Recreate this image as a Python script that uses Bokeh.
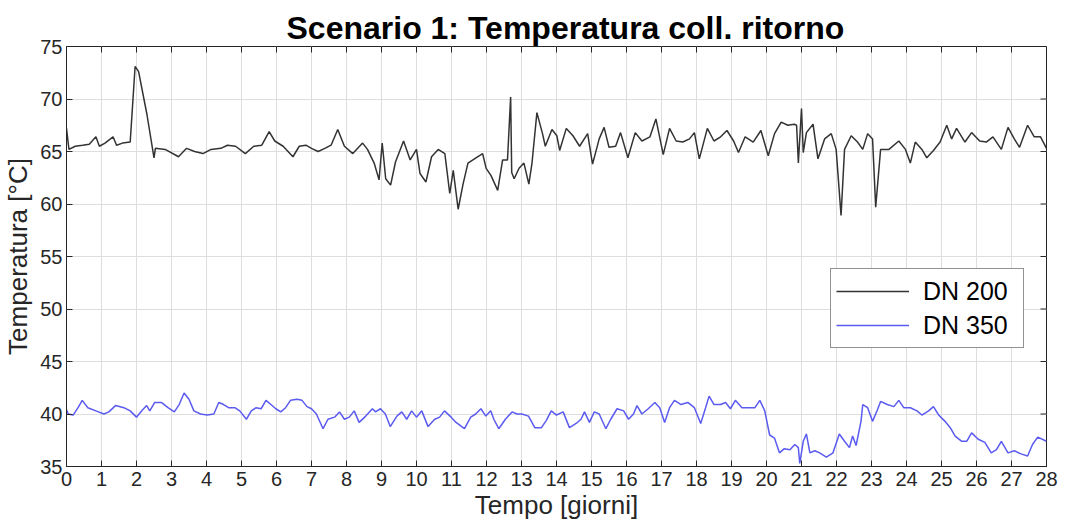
from bokeh.plotting import figure
from bokeh.models import Range1d, FixedTicker, Legend, LegendItem
from bokeh.embed import file_html
from bokeh.resources import INLINE

# ---- data ----
t_dn200 = [0.0, 0.07, 0.25, 0.46, 0.65, 0.84, 0.94, 1.1, 1.33, 1.43, 1.6, 1.82, 1.96, 2.06, 2.3,
           2.5, 2.54, 2.82, 3.2, 3.43, 3.66, 3.9, 4.13, 4.41, 4.6, 4.83, 5.11, 5.35, 5.58, 5.79,
           5.95, 6.19, 6.47, 6.65, 6.84, 7.0, 7.19, 7.38, 7.56, 7.75, 7.94, 8.18, 8.46, 8.6, 8.79,
           8.93, 9.02, 9.12, 9.26, 9.4, 9.63, 9.82, 10.0, 10.1, 10.27, 10.43, 10.62, 10.81, 10.95,
           11.05, 11.19, 11.33, 11.47, 11.7, 11.89, 11.99, 12.13, 12.32, 12.46, 12.6, 12.69, 12.72,
           12.79, 12.93, 13.07, 13.21, 13.3, 13.44, 13.6, 13.68, 13.87, 14.01, 14.09, 14.28, 14.47,
           14.66, 14.89, 15.03, 15.22, 15.36, 15.5, 15.69, 15.83, 16.04, 16.25, 16.44, 16.67, 16.84,
           17.05, 17.23, 17.42, 17.61, 17.8, 17.94, 18.08, 18.31, 18.5, 18.69, 18.87, 19.06, 19.2,
           19.39, 19.62, 19.84, 20.05, 20.23, 20.42, 20.61, 20.79, 20.86, 20.91, 21.0, 21.05, 21.14,
           21.33, 21.47, 21.66, 21.85, 21.99, 22.13, 22.23, 22.42, 22.6, 22.75, 22.89, 23.03, 23.12,
           23.26, 23.5, 23.78, 23.97, 24.11, 24.25, 24.44, 24.58, 24.77, 24.96, 25.15, 25.29, 25.43,
           25.67, 25.86, 26.09, 26.28, 26.47, 26.71, 26.9, 27.08, 27.23, 27.46, 27.65, 27.83, 28.0]
temp_dn200 = [67.2, 65.2, 65.5, 65.6, 65.7, 66.4, 65.5, 65.8, 66.4, 65.6, 65.8, 65.9, 73.1, 72.6, 68.5,
              64.4, 65.3, 65.2, 64.5, 65.3, 65.0, 64.8, 65.2, 65.3, 65.6, 65.5, 64.8, 65.5, 65.6, 66.9,
              66.0, 65.5, 64.5, 65.5, 65.6, 65.3, 65.0, 65.3, 65.6, 67.1, 65.5, 64.8, 65.8, 65.2, 63.9,
              62.3, 65.8, 62.4, 61.8, 64.0, 66.0, 64.2, 65.2, 62.9, 62.1, 64.5, 65.2, 64.8, 61.0,
              63.2, 59.5, 61.9, 63.9, 64.4, 64.8, 63.4, 62.7, 61.3, 64.2, 64.2, 70.2, 63.0,
              62.4, 63.4, 63.9, 61.9, 63.9, 68.7, 66.7, 65.5, 67.1, 66.5, 65.1, 67.2, 66.5,
              65.5, 66.7, 63.8, 66.2, 67.3, 65.4, 65.5, 66.8, 64.4, 66.8, 66.0, 66.4, 68.1,
              64.7, 67.2, 66.0, 65.9, 66.2, 66.8, 64.3, 67.2, 66.0, 66.4, 67.0, 66.0, 64.9,
              66.4, 65.9, 67.0, 64.6, 66.7, 67.8, 67.5, 67.6, 67.5, 63.9, 69.1, 64.9, 66.8,
              67.6, 64.3, 66.2, 66.7, 65.2, 58.9, 65.2, 66.5, 65.9, 65.2, 66.7, 66.2, 59.7,
              65.2, 65.2, 66.0, 65.2, 63.9, 65.9, 65.2, 64.4, 65.1, 65.9, 67.5, 66.2, 67.2,
              65.9, 66.8, 66.0, 65.9, 66.4, 65.2, 67.3, 66.2, 65.4, 67.5, 66.4, 66.4, 65.3]

t_dn350 = [0.0, 0.05, 0.19, 0.33, 0.45, 0.61, 0.84, 1.07, 1.21, 1.4, 1.64, 1.82, 2.0, 2.15, 2.29,
           2.38, 2.52, 2.71, 2.9, 3.08, 3.22, 3.36, 3.5, 3.64, 3.83, 4.02, 4.21, 4.35, 4.49, 4.63,
           4.81, 4.95, 5.14, 5.28, 5.42, 5.56, 5.7, 5.84, 5.98, 6.12, 6.26, 6.4, 6.59, 6.73, 6.87,
           7.0, 7.14, 7.33, 7.47, 7.66, 7.8, 7.94, 8.08, 8.22, 8.36, 8.55, 8.74, 8.83, 8.97, 9.11,
           9.25, 9.44, 9.58, 9.72, 9.86, 10.0, 10.15, 10.33, 10.52, 10.66, 10.8, 10.99, 11.13,
           11.37, 11.55, 11.69, 11.84, 11.98, 12.12, 12.21, 12.35, 12.54, 12.73, 12.87, 13.01,
           13.2, 13.38, 13.57, 13.71, 13.85, 14.0, 14.19, 14.37, 14.56, 14.7, 14.8, 14.94, 15.08,
           15.22, 15.41, 15.55, 15.73, 15.92, 16.06, 16.2, 16.3, 16.44, 16.62, 16.81, 16.95, 17.09,
           17.23, 17.37, 17.56, 17.75, 17.94, 18.12, 18.26, 18.36, 18.5, 18.69, 18.83, 18.97,
           19.11, 19.3, 19.48, 19.67, 19.81, 19.95, 20.09, 20.23, 20.37, 20.51, 20.67, 20.81,
           20.91, 20.95, 21.05, 21.14, 21.24, 21.38, 21.52, 21.71, 21.9, 22.08, 22.23, 22.37,
           22.46, 22.56, 22.7, 22.75, 22.89, 23.03, 23.17, 23.26, 23.45, 23.64, 23.78, 23.92,
           24.11, 24.3, 24.44, 24.63, 24.77, 24.92, 25.1, 25.25, 25.39, 25.58, 25.72, 25.86,
           26.05, 26.24, 26.42, 26.57, 26.71, 26.9, 27.08, 27.27, 27.46, 27.6, 27.75, 28.0]
temp_dn350 = [40.4, 40.0, 39.9, 40.6, 41.3, 40.6, 40.3, 40.0, 40.2, 40.8, 40.6, 40.3, 39.7, 40.3, 40.8,
              40.3, 41.1, 41.1, 40.6, 40.2, 40.9, 42.0, 41.4, 40.3, 40.0, 39.9, 40.0, 41.1, 40.9, 40.6,
              40.6, 40.3, 39.5, 40.3, 40.6, 40.5, 41.3, 40.9, 40.5, 40.2, 40.6, 41.3, 41.4, 41.3, 40.7,
              40.5, 40.0, 38.6, 39.5, 39.7, 40.2, 39.5, 39.7, 40.3, 39.2, 39.8, 40.5, 40.2, 40.5, 40.0,
              38.8, 39.8, 40.2, 39.5, 40.3, 39.7, 40.3, 38.8, 39.5, 39.7, 40.3, 39.7, 39.2,
              38.6, 39.7, 40.0, 40.5, 39.8, 40.3, 39.5, 38.6, 39.5, 40.2, 40.0, 40.0,
              39.8, 38.7, 38.7, 39.4, 40.3, 39.9, 40.2, 38.7, 39.1, 39.5, 40.2, 39.2, 40.2,
              40.0, 38.6, 39.5, 40.5, 40.3, 39.5, 40.0, 40.8, 40.0, 40.5, 41.1, 40.6, 39.2,
              40.6, 41.3, 40.9, 41.1, 40.6, 39.1, 40.6, 41.7, 40.9, 40.9, 41.1, 40.5,
              41.3, 40.6, 40.6, 40.6, 41.3, 40.3, 38.0, 37.7, 36.3, 36.7, 36.6, 37.1,
              36.8, 35.3, 37.4, 38.1, 36.3, 36.5, 36.3, 35.9, 36.3, 38.1, 37.4, 36.8,
              37.9, 37.0, 39.3, 40.9, 40.6, 39.3, 40.4, 41.2, 40.9, 40.7, 41.3, 40.6,
              40.6, 40.3, 39.9, 40.3, 40.7, 39.9, 39.3, 38.7, 37.9, 37.4, 37.4, 38.2,
              37.6, 37.3, 36.3, 36.6, 37.4, 36.3, 36.5, 36.2, 36.0, 37.1, 37.8, 37.4]

x_ticks = list(range(0, 29))
y_ticks = [35, 40, 45, 50, 55, 60, 65, 70, 75]
series_labels = ["DN 200", "DN 350"]

TITLE = "Scenario 1: Temperatura coll. ritorno"
X_LABEL = "Tempo [giorni]"
Y_LABEL = "Temperatura [°C]"

FONT = "Liberation Sans"
AX_COL = "#262626"

X_MIN, X_MAX = 0, 28
Y_MIN, Y_MAX = 35, 75
FRAME_W, FRAME_H = 980, 420
TICK_PX = 6

p = figure(width=1065, height=525, output_backend="svg", toolbar_location=None,
           x_range=Range1d(X_MIN, X_MAX), y_range=Range1d(Y_MIN, Y_MAX),
           min_border_left=66, min_border_right=19, min_border_top=46, min_border_bottom=59,
           background_fill_color="white", border_fill_color="white")

p.title.text = TITLE
p.title.align = "left"
p.title.offset = 220
p.title.text_font = FONT
p.title.text_font_size = "32px"
p.title.text_font_style = "bold"
p.title.text_color = "#000000"
p.title.standoff = 2

p.outline_line_color = AX_COL
p.outline_line_width = 1

# grid
p.xgrid.ticker = FixedTicker(ticks=x_ticks)
p.ygrid.ticker = FixedTicker(ticks=y_ticks)
for g in (p.xgrid, p.ygrid):
    g.grid_line_color = "#dedede"
    g.grid_line_width = 1

# main axes
p.xaxis.ticker = FixedTicker(ticks=x_ticks)
p.yaxis.ticker = FixedTicker(ticks=y_ticks)
for ax in (p.xaxis[0], p.yaxis[0]):
    ax.major_tick_in = TICK_PX
    ax.major_tick_out = 0
    ax.minor_tick_line_color = None
    ax.axis_line_color = AX_COL
    ax.major_tick_line_color = AX_COL
    ax.major_label_text_font = FONT
    ax.major_label_text_font_size = "20px"
    ax.major_label_text_color = AX_COL
    ax.axis_label_text_font = FONT
    ax.axis_label_text_font_size = "26px"
    ax.axis_label_text_font_style = "normal"
    ax.axis_label_text_color = AX_COL
p.xaxis.axis_label = X_LABEL
p.yaxis.axis_label = Y_LABEL
p.xaxis.major_label_standoff = 5
p.xaxis.axis_label_standoff = 1
p.yaxis.major_label_standoff = 4
p.yaxis.axis_label_standoff = 4

# mirrored inward ticks on the top and right edges of the box (from the tick lists)
dy = TICK_PX * (Y_MAX - Y_MIN) / FRAME_H
dx = TICK_PX * (X_MAX - X_MIN) / FRAME_W
p.segment(x0=x_ticks, y0=[Y_MAX] * len(x_ticks), x1=x_ticks, y1=[Y_MAX - dy] * len(x_ticks),
          line_color=AX_COL, line_width=1)
p.segment(x0=[X_MAX] * len(y_ticks), y0=y_ticks, x1=[X_MAX - dx] * len(y_ticks), y1=y_ticks,
          line_color=AX_COL, line_width=1)

r1 = p.line(t_dn200, temp_dn200, line_color="#333333", line_width=1.5)
r2 = p.line(t_dn350, temp_dn350, line_color="#5b5bf0", line_width=1.5)

legend = Legend(items=[LegendItem(label=series_labels[0], renderers=[r1]),
                       LegendItem(label=series_labels[1], renderers=[r2])],
                location=(764, 118), orientation="vertical",
                border_line_color=AX_COL, border_line_width=1,
                background_fill_color="white", background_fill_alpha=1.0,
                label_text_font=FONT, label_text_font_size="25px", label_text_color="#000000",
                glyph_width=73, glyph_height=34, label_height=34, label_width=95,
                label_standoff=14, padding=5, spacing=0, margin=0)
p.add_layout(legend)

html = file_html(p, INLINE)
with open("out.html", "w") as f:
    f.write(html)
